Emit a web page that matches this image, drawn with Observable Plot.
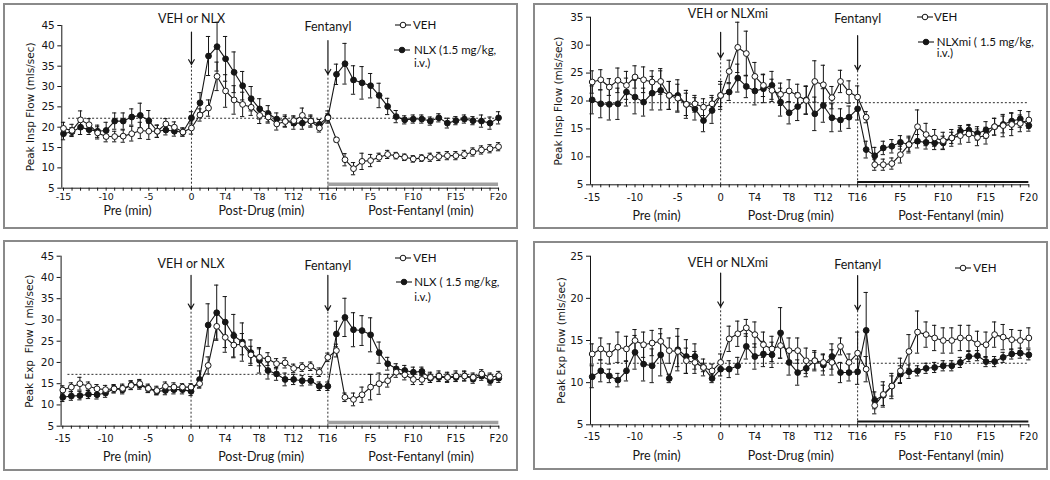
<!DOCTYPE html>
<html><head><meta charset="utf-8">
<script src="https://cdn.jsdelivr.net/npm/d3@7"></script>
<script src="https://cdn.jsdelivr.net/npm/@observablehq/plot@0.6"></script>
<style>
body{margin:0;background:#fff;}
#root{position:relative;width:1050px;height:480px;overflow:hidden;}
.panel{position:absolute;border:2px solid #8a8a8a;background:#fff;}
.panel svg{display:block;overflow:visible;}
.leg{position:absolute;font-family:Lato,sans-serif;font-size:11.5px;color:#111;white-space:nowrap;line-height:1;transform:translateY(-50%);}
.sym{position:absolute;}
</style></head><body><div id="root"></div>
<script>
// x positions: -15..0 = Pre, 1..16 = T1..T16, 17..36 = F1..F20
const minutes = d3.range(-15, 37);
const tickValues = [-15, -10, -5, 0, 4, 8, 12, 16, 21, 26, 31, 36];
const tickLabels = ["-15", "-10", "-5", "0", "T4", "T8", "T12", "T16", "F5", "F10", "F15", "F20"];
const phaseLabels = ["Pre (min)", "Post-Drug (min)", "Post-Fentanyl (min)"];
const phaseCenters = [-7.5, 8.2, 26.9];

// Panel A: Peak Insp Flow, VEH vs NLX
const inspNlxVeh = [19.7,19.2,21.8,20.6,18.6,17.7,17.7,17.8,18.4,19.2,19.0,19.0,20.8,20.0,18.8,19.8,
 23.0,24.7,32.5,28.9,26.7,25.6,24.9,22.9,22.5,20.8,21.4,21.6,22.9,21.5,19.8,22.3,
 16.9,12.0,9.8,11.6,11.8,12.6,13.3,13.0,12.6,12.2,12.4,12.6,12.8,13.0,13.0,13.3,13.9,14.4,14.7,15.2];
const inspNlx = [18.4,18.9,20.0,19.4,19.0,19.2,21.5,21.5,22.5,22.9,21.6,19.0,19.3,19.0,18.8,22.3,
 26.0,37.5,39.8,36.8,33.5,30.2,27.0,24.5,23.3,22.0,21.5,21.0,21.0,21.5,20.7,22.5,
 33.0,35.6,31.6,30.9,30.2,27.8,25.1,22.6,21.8,22.0,22.0,21.5,22.3,21.0,21.6,22.0,21.6,21.5,21.0,22.3];
const inspNlxVehSem = [1.5,1.5,2.2,1.5,1.5,1.3,1.3,1.5,1.8,2.0,2.0,1.5,1.3,1.3,1.0,1.5,
 1.5,2.0,3.5,4.0,3.5,3.0,2.0,2.0,1.5,1.5,1.2,1.2,1.8,1.2,1.0,1.0,
 0.5,1.5,1.5,2.0,1.5,1.0,1.0,0.8,0.8,0.8,0.8,1.0,1.0,1.0,1.0,1.0,1.0,1.0,1.0,1.0];
const inspNlxSem = [1.5,1.0,1.8,1.2,1.5,2.0,2.0,2.0,2.0,3.0,2.5,1.5,1.2,1.2,1.0,1.5,
 2.5,4.8,6.0,5.5,5.0,3.5,3.0,2.5,2.0,1.5,1.5,1.5,1.5,1.5,1.2,1.5,
 2.5,5.0,3.5,4.0,3.0,3.0,2.0,1.5,1.0,1.0,1.0,1.0,1.0,1.2,1.0,1.0,1.0,1.5,1.5,1.5];

// Panel B: Peak Insp Flow, VEH vs NLXmi
const inspMiVeh = [23.4,23.8,22.5,23.7,22.8,24.3,23.8,23.4,23.5,21.0,20.5,19.4,19.5,18.9,19.5,21.0,
 25.3,29.6,28.5,24.4,22.8,21.9,21.2,21.8,21.0,20.1,23.5,22.9,20.6,23.5,21.6,20.7,
 17.1,8.6,8.6,8.8,10.4,12.2,15.4,14.0,13.4,12.9,13.4,13.8,14.1,13.5,13.8,15.4,15.6,15.8,16.0,16.6];
const inspMi = [20.2,19.5,19.4,19.5,21.6,20.7,19.8,21.4,21.9,21.0,21.0,19.4,18.6,16.5,18.3,21.0,
 21.6,24.1,22.6,21.8,22.2,22.8,19.8,17.9,19.0,20.2,17.7,19.2,17.0,16.6,17.1,18.6,
 11.3,10.2,11.6,11.9,12.6,12.2,12.8,12.6,12.5,12.5,13.4,14.6,14.8,14.2,14.8,15.4,15.8,16.4,16.8,15.6];
const inspMiVehSem = [2.0,1.8,1.5,2.2,2.5,2.0,2.3,2.0,2.3,2.5,2.5,2.0,1.5,1.5,1.5,2.0,
 2.0,4.5,4.0,2.5,2.0,2.0,2.0,2.0,2.0,2.5,3.7,3.5,2.0,2.0,2.0,2.0,
 1.0,1.0,1.0,1.0,1.5,1.5,3.0,2.0,1.5,1.5,1.5,1.5,1.5,1.5,1.5,1.5,2.0,2.0,1.5,1.5];
const inspMiSem = [2.5,2.5,2.8,2.8,2.5,3.0,2.5,3.0,3.5,2.5,2.8,2.5,2.0,2.0,2.3,2.5,
 1.5,2.5,2.0,2.5,2.5,2.5,2.5,2.0,2.5,2.5,3.0,3.0,2.5,2.0,2.0,2.0,
 1.5,1.5,1.2,1.2,1.2,1.2,1.2,1.2,1.2,1.2,1.0,1.0,1.0,1.2,1.5,1.5,1.5,1.5,1.5,1.0];

// Panel C: Peak Exp Flow, VEH vs NLX
const expNlxVeh = [13.5,14.2,15.0,14.4,13.8,13.6,13.8,13.9,14.6,15.0,13.9,13.4,14.4,14.2,14.2,14.2,
 15.0,19.3,28.5,25.9,24.1,24.3,21.8,21.2,20.8,19.7,19.9,18.6,18.9,19.1,17.7,21.2,
 22.8,11.8,11.3,12.4,14.2,15.0,15.7,17.7,17.1,16.0,16.0,16.5,16.8,16.5,16.8,16.8,16.5,17.3,16.5,16.9];
const expNlx = [11.8,12.1,12.2,12.5,12.4,12.8,13.8,13.6,14.7,14.7,13.8,13.2,13.4,13.6,13.6,13.2,
 16.0,28.8,31.7,29.5,26.3,24.8,22.3,20.5,18.1,17.3,16.0,16.0,15.7,15.7,14.4,14.4,
 26.7,30.6,27.7,27.5,26.5,22.3,19.7,18.5,18.1,17.7,17.9,16.3,16.5,16.5,16.5,16.8,16.1,16.8,15.7,16.3];
const expNlxVehSem = [1.0,1.0,1.5,1.0,1.0,1.0,1.0,1.0,1.0,1.0,1.0,1.0,1.0,1.0,0.8,0.8,
 1.0,2.0,3.0,3.5,3.0,2.5,2.0,2.0,1.5,1.2,1.2,1.0,1.0,1.0,1.0,1.0,
 1.5,1.0,1.5,1.8,3.0,2.5,1.5,1.2,1.2,1.2,1.2,1.2,1.2,1.2,1.2,1.2,1.0,1.0,1.0,1.0];
const expNlxSem = [1.0,1.0,1.0,1.0,1.0,1.0,0.8,1.0,1.0,1.0,0.8,0.8,1.0,1.0,1.0,1.0,
 2.0,5.0,6.5,6.0,5.0,4.5,3.0,3.0,2.0,1.5,1.5,1.2,1.2,1.0,1.0,1.0,
 3.0,4.5,4.0,3.5,4.0,2.5,1.5,1.2,1.2,1.2,1.0,1.0,1.0,1.0,1.0,1.0,1.0,1.0,1.0,1.0];

// Panel D: Peak Exp Flow, VEH vs NLXmi
const expMiVeh = [13.4,14.0,13.4,14.2,14.0,15.0,14.5,14.7,14.9,13.8,13.7,12.6,12.4,11.8,11.4,12.4,
 15.2,15.8,16.5,15.7,14.5,14.0,14.4,13.8,13.8,12.6,12.6,12.4,12.4,14.3,12.4,13.5,
 11.6,7.3,8.6,9.6,11.4,13.7,16.0,15.7,15.3,15.0,15.0,15.3,15.3,14.6,14.5,15.7,15.4,15.1,15.0,15.3];
const expMi = [10.7,11.4,10.8,10.3,11.4,13.6,12.2,12.0,13.3,10.5,13.9,13.1,13.1,11.8,10.5,11.6,
 11.6,12.0,14.3,13.1,13.4,13.3,15.9,12.4,11.2,11.7,12.6,12.1,13.1,11.2,11.2,11.3,
 16.2,7.9,8.5,9.6,11.0,11.3,11.4,11.7,11.8,12.0,12.0,12.4,13.1,13.2,12.5,12.5,13.0,13.4,13.5,13.3];
const expMiVehSem = [1.2,1.3,1.2,1.8,1.5,1.3,1.5,1.5,1.5,1.5,1.8,1.5,1.3,1.0,0.8,1.0,
 1.5,1.5,1.0,1.5,1.5,1.5,1.5,1.5,1.5,1.5,1.2,1.0,1.5,1.0,1.0,2.5,
 1.5,1.0,1.5,1.5,1.5,2.0,2.5,1.5,1.5,1.5,1.5,1.5,1.5,1.5,1.5,1.5,1.5,1.2,1.2,1.2];
const expMiSem = [1.3,1.3,0.8,0.8,1.2,2.0,2.0,2.0,2.5,0.5,2.5,2.0,1.5,0.5,0.5,0.8,
 1.0,1.0,1.5,1.5,1.5,1.5,3.0,1.5,1.5,1.0,1.0,1.2,1.5,1.2,1.0,1.5,
 4.5,1.0,1.2,1.2,1.0,0.8,0.6,0.6,0.6,0.6,0.6,0.6,0.6,0.6,0.6,0.6,0.6,0.6,0.6,0.6];

const ink = "#161616";

const panels = [
  {left:3, top:3, w:511, h:222, m:[20,17.1,39.3,56.3], yDomain:[5,45], yTicks:[5,10,15,20,25,30,35,40,45],
   yLabel:"Peak Insp Flow (mls/sec)", yLabelX:25, veh:inspNlxVeh, drug:inspNlx, vehSem:inspNlxVehSem, drugSem:inspNlxSem,
   base:22.2, drugArrow:[43.4,35.4], fentArrow:[41.3,33.0], drugText:"VEH or NLX", drugTextPos:[0,46.7], fentTextPos:[16,44.6],
   bar:6.0, barColor:"#a0a0a0", barWidth:3.5, tickDy:8.8, groupDy:22.6, tickSize:9.5,
   legend:[{sym:"open",sx:398,sy:20,tx:408,text:"VEH"},{sym:"filled",sx:397,sy:45,tx:409,text:"NLX (1.5 mg/kg,"},{tx:409,sy:58,text:"i.v.)"}]},
  {left:533, top:3, w:511, h:222, m:[11.7,16.8,42.7,55], yDomain:[5,35], yTicks:[5,10,15,20,25,30,35],
   yLabel:"Peak Insp Flow (mls/sec)", yLabelX:23, veh:inspMiVeh, drug:inspMi, vehSem:inspMiVehSem, drugSem:inspMiSem,
   base:19.7, drugArrow:[32.3,27.7], fentArrow:[31.7,25.5], drugText:"VEH or NLXmi", drugTextPos:[0.85,35.5], fentTextPos:[16,34.7],
   bar:5.5, barColor:ink, barWidth:2, tickDy:12.5, groupDy:30.7, tickSize:10,
   legend:[{sym:"open",sx:389.5,sy:11.7,tx:399,text:"VEH"},{sym:"filled",sx:391,sy:36.7,tx:401.7,text:"NLXmi ( 1.5 mg/kg,"},{tx:401.7,sy:48.3,text:"i.v.)"}]},
  {left:3, top:240, w:511, h:227, m:[13.7,16.8,43.3,55.6], yDomain:[5,45], yTicks:[5,10,15,20,25,30,35,40,45],
   yLabel:"Peak Exp  Flow ( mls/sec)", yLabelX:24, veh:expNlxVeh, drug:expNlx, vehSem:expNlxVehSem, drugSem:expNlxSem,
   base:17.2, drugArrow:[40.5,32.6], fentArrow:[40.5,32.2], drugText:"VEH or NLX", drugTextPos:[0,43.2], fentTextPos:[16,42.8],
   bar:5.9, barColor:"#a0a0a0", barWidth:3.5, tickDy:12.6, groupDy:31, tickSize:10,
   legend:[{sym:"open",sx:397.5,sy:16.3,tx:408.3,text:"VEH"},{sym:"filled",sx:399,sy:39.7,tx:409.3,text:"NLX ( 1.5 mg/kg,"},{tx:409.3,sy:54.7,text:"i.v.)"}]},
  {left:533, top:241, w:511, h:225, m:[12.7,16.8,43.7,55], yDomain:[5,25], yTicks:[5,10,15,20,25],
   yLabel:"Peak Exp Flow (mls/sec)", yLabelX:26, veh:expMiVeh, drug:expMi, vehSem:expMiVehSem, drugSem:expMiSem,
   base:12.3, drugArrow:[23.0,19.0], fentArrow:[22.7,18.6], drugText:"VEH or NLXmi", drugTextPos:[0.85,24.2], fentTextPos:[16,24.0],
   bar:5.4, barColor:ink, barWidth:2, tickDy:12.4, groupDy:30.7, tickSize:10,
   legend:[{sym:"open",sx:428.3,sy:25.3,tx:438.3,text:"VEH"}]}
];

const root = document.getElementById("root");

function makePanel(cfg) {
  const rows = [];
  minutes.forEach((m, i) => {
    rows.push({x: m, y: cfg.drug[i], e: cfg.drugSem[i], s: "drug"});
    rows.push({x: m, y: cfg.veh[i], e: cfg.vehSem[i], s: "veh"});
  });
  const [y0, y1] = cfg.yDomain;
  const arrows = [{x: 0, top: cfg.drugArrow[0], tip: cfg.drugArrow[1]}, {x: 16, top: cfg.fentArrow[0], tip: cfg.fentArrow[1]}];
  const notes = [
    {x: cfg.drugTextPos[0], y: cfg.drugTextPos[1], t: cfg.drugText},
    {x: cfg.fentTextPos[0], y: cfg.fentTextPos[1], t: "Fentanyl"}
  ];
  const chart = Plot.plot({
    width: cfg.w, height: cfg.h,
    marginTop: cfg.m[0], marginRight: cfg.m[1], marginBottom: cfg.m[2], marginLeft: cfg.m[3],
    x: {domain: [-15.2, 36.1]},
    y: {domain: cfg.yDomain},
    style: {fontFamily: "'DejaVu Sans', sans-serif", fontSize: "10px", color: ink, background: "white", overflow: "visible"},
    marks: [
      Plot.ruleY([cfg.base], {x1: -14.4, x2: 36, stroke: ink, strokeDasharray: "2,2", strokeWidth: 0.9}),
      Plot.ruleX(arrows, {x: "x", y1: y0, y2: "tip", stroke: ink, strokeDasharray: "2,2", strokeWidth: 0.9}),
      Plot.arrow(arrows, {x1: "x", x2: "x", y1: "top", y2: "tip", stroke: ink, strokeWidth: 1.2, headLength: 7}),
      Plot.text(notes, {x: "x", y: "y", text: "t", fontFamily: "Lato, sans-serif", fontSize: 12.5}),
      Plot.ruleY([cfg.bar], {x1: 16, x2: 36, stroke: cfg.barColor, strokeWidth: cfg.barWidth}),
      Plot.ruleY([y0], {stroke: ink, strokeWidth: 1}),
      Plot.ruleX([-15.2], {y1: y0, y2: y1, stroke: ink, strokeWidth: 1}),
      Plot.axisX({ticks: minutes, tickSize: 3, tickFormat: () => "", label: null, stroke: ink}),
      Plot.axisY({ticks: cfg.yTicks, tickSize: 4, tickPadding: 3, label: null, fontSize: 10.5, stroke: ink}),
      Plot.text(tickValues, {x: d => d, text: (d, i) => tickLabels[i], frameAnchor: "bottom", lineAnchor: "middle", dy: cfg.tickDy, fontSize: cfg.tickSize}),
      Plot.text(phaseLabels, {x: (d, i) => phaseCenters[i], text: d => d, frameAnchor: "bottom", lineAnchor: "middle", dy: cfg.groupDy, fontFamily: "Lato, sans-serif", fontSize: 12.5}),
      Plot.text([cfg.yLabel], {text: d => d, frameAnchor: "left", textAnchor: "middle", lineAnchor: "middle", rotate: -90, dx: cfg.yLabelX - cfg.m[3], fontSize: 10.5}),
      Plot.line(rows, {x: "x", y: "y", z: "s", stroke: ink, strokeWidth: 1.1}),
      Plot.ruleX(rows, {x: "x", y1: d => d.y - d.e, y2: d => d.y + d.e, stroke: ink, strokeWidth: 1}),
      Plot.ruleY(rows, {y: d => d.y + d.e, x1: d => d.x - 0.25, x2: d => d.x + 0.25, stroke: ink, strokeWidth: 1}),
      Plot.ruleY(rows, {y: d => d.y - d.e, x1: d => d.x - 0.25, x2: d => d.x + 0.25, stroke: ink, strokeWidth: 1}),
      Plot.dot(rows, {x: "x", y: "y", r: 2.9, fill: d => d.s === "veh" ? "white" : ink, stroke: ink, strokeWidth: 1})
    ]
  });
  const div = document.createElement("div");
  div.className = "panel";
  div.style.left = cfg.left + "px";
  div.style.top = cfg.top + "px";
  div.style.width = cfg.w + "px";
  div.style.height = cfg.h + "px";
  div.appendChild(chart);
  for (const e of cfg.legend) {
    if (e.sym) {
      const ns = "http://www.w3.org/2000/svg";
      const s = document.createElementNS(ns, "svg");
      s.setAttribute("width", 16); s.setAttribute("height", 10);
      s.setAttribute("class", "sym");
      s.style.left = (e.sx - 8) + "px"; s.style.top = (e.sy - 5) + "px";
      s.innerHTML = `<line x1="0" x2="16" y1="5" y2="5" stroke="${ink}" stroke-width="1.1"/>` +
        `<circle cx="8" cy="5" r="2.8" fill="${e.sym === "open" ? "white" : ink}" stroke="${ink}"/>`;
      div.appendChild(s);
    }
    const t = document.createElement("div");
    t.className = "leg";
    t.style.left = e.tx + "px"; t.style.top = e.sy + "px";
    t.textContent = e.text;
    div.appendChild(t);
  }
  root.appendChild(div);
}
panels.forEach(makePanel);
</script>
</body></html>
